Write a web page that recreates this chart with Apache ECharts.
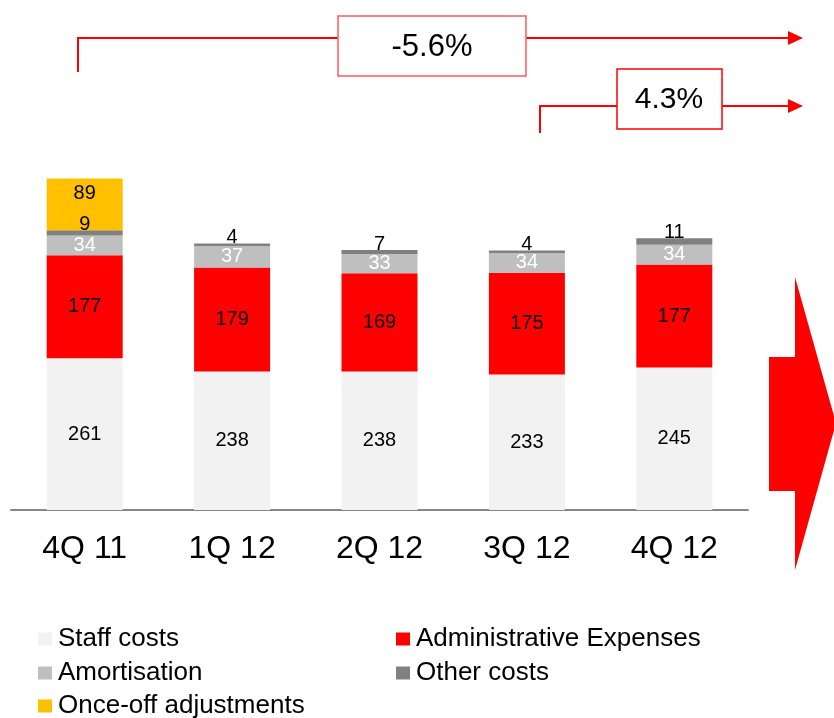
<!DOCTYPE html>
<html>
<head>
<meta charset="utf-8">
<script src="https://cdn.jsdelivr.net/npm/echarts@6/dist/echarts.min.js"></script>
<style>
  html, body { margin: 0; padding: 0; background: #fff; }
  #chart { width: 834px; height: 718px; }
</style>
</head>
<body>
<div id="chart"></div>
<script>
// Quarterly operating costs, stacked by component
const quarters = ['4Q 11', '1Q 12', '2Q 12', '3Q 12', '4Q 12'];
const staffCosts = [261, 238, 238, 233, 245];
const adminExpenses = [177, 179, 169, 175, 177];
const amortisation = [34, 37, 33, 34, 34];
const otherCosts = [9, 4, 7, 4, 11];
const onceOff = [89, null, null, null, null];

const changeYearOnYear = '-5.6%';
const changeQuarterOnQuarter = '4.3%';

const FONT = '"Liberation Sans", Arial, sans-serif';
const RED = '#FF0000';

function barSeries(name, data, color, labelColor, labelExtra) {
  return {
    name: name,
    type: 'bar',
    stack: 'costs',
    data: data,
    barWidth: 76,
    itemStyle: { color: color },
    label: Object.assign({
      show: true,
      position: 'inside',
      color: labelColor,
      fontFamily: FONT,
      fontSize: 20,
      formatter: p => (p.value == null ? '' : String(p.value))
    }, labelExtra || {})
  };
}

function legendItem(name, left, top) {
  return {
    data: [name],
    left: left,
    top: top,
    padding: 0,
    icon: 'rect',
    itemWidth: 14,
    itemHeight: 13,
    selectedMode: false,
    textStyle: { fontFamily: FONT, fontSize: 26, color: '#000', padding: [0, 0, 0, 1] }
  };
}

const chart = echarts.init(document.getElementById('chart'), null, { renderer: 'canvas' });

chart.setOption({
  animation: false,
  backgroundColor: '#fff',
  grid: { left: 11, width: 737, top: 161, bottom: 208 },
  xAxis: {
    type: 'category',
    data: quarters,
    axisLine: { lineStyle: { color: '#878787', width: 2 } },
    axisTick: { show: false },
    axisLabel: { fontFamily: FONT, fontSize: 32, color: '#000', margin: 23 }
  },
  yAxis: {
    type: 'value',
    min: 0,
    max: 600,
    show: false,
    splitLine: { show: false }
  },
  legend: [
    legendItem('Staff costs', 38, 626),
    legendItem('Administrative Expenses', 396, 626),
    legendItem('Amortisation', 38, 660),
    legendItem('Other costs', 396, 660),
    legendItem('Once-off adjustments', 38, 693)
  ],
  series: [
    barSeries('Staff costs', staffCosts, '#F2F2F2', '#000'),
    barSeries('Administrative Expenses', adminExpenses, '#FF0000', '#000'),
    barSeries('Amortisation', amortisation, '#BFBFBF', '#fff'),
    barSeries('Other costs', otherCosts, '#808080', '#000', { position: 'top', distance: -4 }),
    barSeries('Once-off adjustments', onceOff, '#FFC000', '#000', { position: 'insideTop', distance: 5 })
  ],
  graphic: [
    // year-on-year bracket
    { type: 'polyline', shape: { points: [[78, 72], [78, 38], [338, 38]] }, style: { stroke: RED, lineWidth: 2, fill: null } },
    { type: 'line', shape: { x1: 526, y1: 38, x2: 792, y2: 38 }, style: { stroke: RED, lineWidth: 2 } },
    { type: 'polygon', shape: { points: [[788, 31], [803, 38], [788, 45]] }, style: { fill: RED } },
    { type: 'rect', shape: { x: 338, y: 16, width: 188, height: 60 }, style: { fill: '#fff', stroke: '#FF5A5A', lineWidth: 1.5 } },
    { type: 'text', x: 432, y: 47, style: { text: changeYearOnYear, fontFamily: FONT, fontSize: 31, fill: '#000', align: 'center', verticalAlign: 'middle' } },
    // quarter-on-quarter bracket
    { type: 'polyline', shape: { points: [[540, 133], [540, 106], [617, 106]] }, style: { stroke: RED, lineWidth: 2, fill: null } },
    { type: 'line', shape: { x1: 722, y1: 106, x2: 792, y2: 106 }, style: { stroke: RED, lineWidth: 2 } },
    { type: 'polygon', shape: { points: [[788, 99], [803, 106], [788, 113]] }, style: { fill: RED } },
    { type: 'rect', shape: { x: 617, y: 69, width: 105, height: 60 }, style: { fill: '#fff', stroke: RED, lineWidth: 1.5 } },
    { type: 'text', x: 669, y: 100, style: { text: changeQuarterOnQuarter, fontFamily: FONT, fontSize: 30, fill: '#000', align: 'center', verticalAlign: 'middle' } },
    // large arrow on the right
    { type: 'polygon', shape: { points: [[769, 357], [795, 357], [795, 277], [836, 423], [795, 570], [795, 491], [769, 491]] }, style: { fill: RED } }
  ]
});
</script>
</body>
</html>
